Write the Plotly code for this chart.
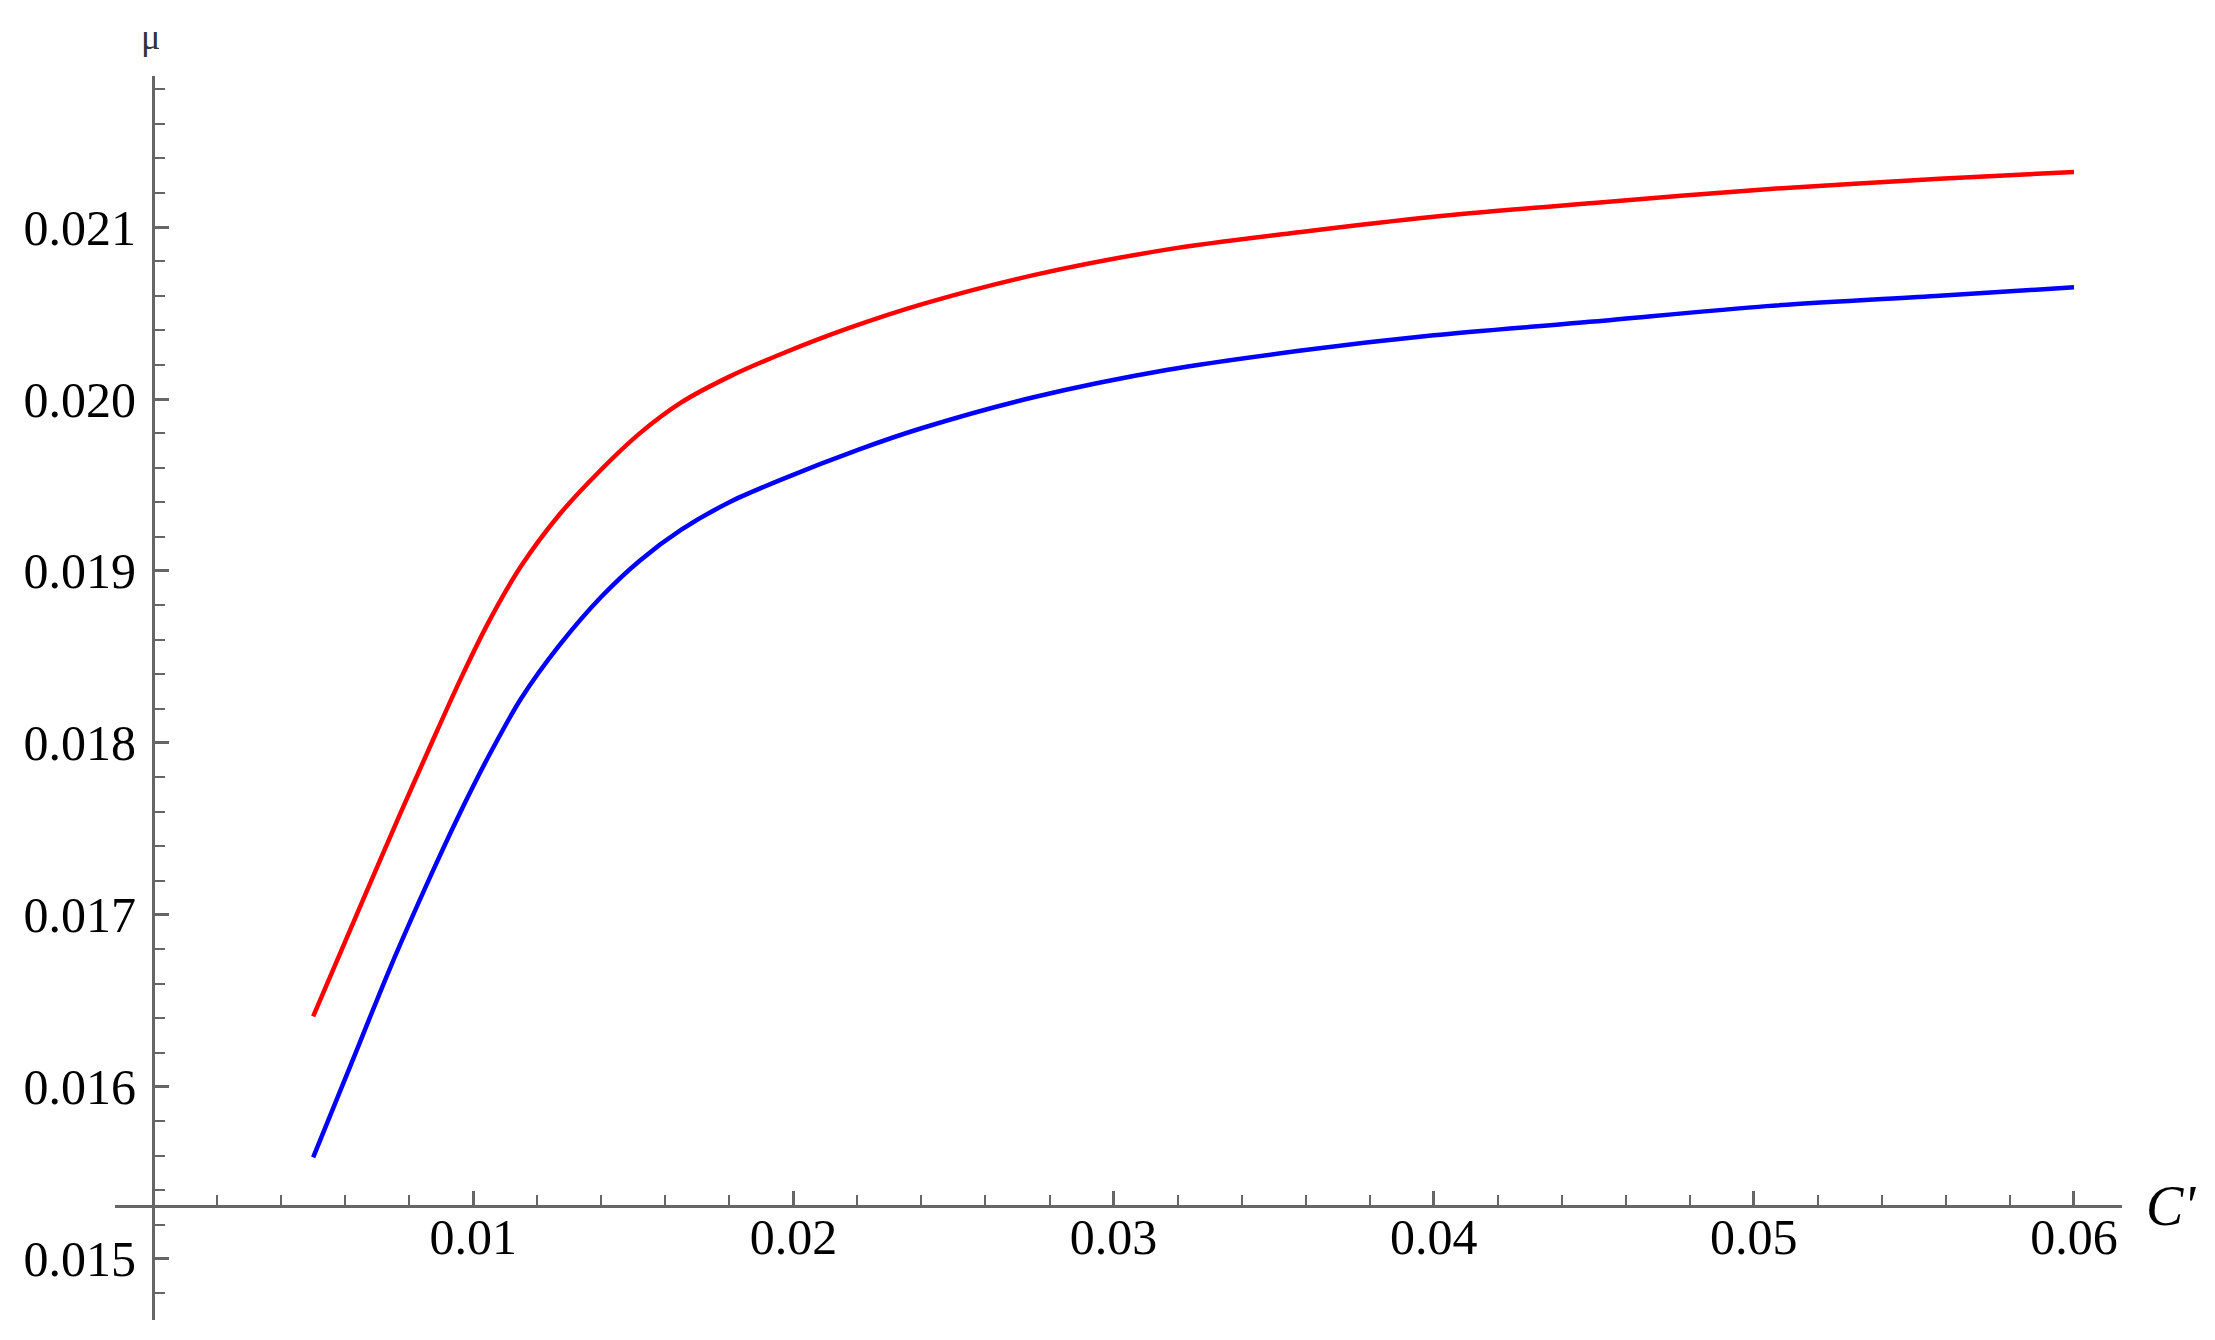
import plotly.graph_objects as go

# --- data (C' vs mu) ---
c_red = [0.0050, 0.0064, 0.0077, 0.0087, 0.0096, 0.0105, 0.0115, 0.0127, 0.0140, 0.0152, 0.0165,
         0.0180, 0.0196, 0.0217, 0.0240, 0.0275, 0.0317, 0.0358, 0.0400, 0.0450, 0.0504, 0.0558, 0.0600]
mu_red = [0.01641, 0.01702, 0.01758, 0.01800, 0.01837, 0.01871, 0.01903, 0.01933, 0.01959, 0.01980, 0.01998,
          0.02013, 0.02026, 0.02041, 0.02055, 0.02072, 0.02087, 0.02097, 0.02106, 0.02114, 0.02122, 0.02128, 0.02132]

c_blue = [0.0050, 0.0062, 0.0074, 0.0087, 0.0095, 0.0105, 0.0115, 0.0127, 0.0140, 0.0152, 0.0165,
          0.0180, 0.0196, 0.0221, 0.0240, 0.0275, 0.0317, 0.0358, 0.0400, 0.0450, 0.0504, 0.0558, 0.0600]
mu_blue = [0.01559, 0.01614, 0.01669, 0.01724, 0.01756, 0.01793, 0.01826, 0.01857, 0.01885, 0.01906, 0.01924,
           0.01940, 0.01953, 0.01971, 0.01983, 0.02001, 0.02017, 0.02028, 0.02037, 0.02045, 0.02054, 0.02060, 0.02065]

x_ticks = [0.01, 0.02, 0.03, 0.04, 0.05, 0.06]
y_ticks = [0.015, 0.016, 0.017, 0.018, 0.019, 0.020, 0.021]

# plot range and where the axes cross (Mathematica-style axes origin)
x_range = [-0.00119, 0.0615]
y_range = [0.014645, 0.021878]
x_origin = 0.0
y_origin = 0.015308

FONT = "Liberation Serif"
AXIS_COL = "#666666"

fig = go.Figure()

# --- curves ---
fig.add_trace(go.Scatter(x=c_red, y=mu_red, mode='lines',
                         line=dict(color='#ff0000', width=4.5, shape='spline', smoothing=0.8),
                         showlegend=False))
fig.add_trace(go.Scatter(x=c_blue, y=mu_blue, mode='lines',
                         line=dict(color='#0000ff', width=4.5, shape='spline', smoothing=0.8),
                         showlegend=False))

# axes cross inside the frame, so both are "free" and positioned by fraction
x_pos = (y_origin - y_range[0]) / (y_range[1] - y_range[0])
y_pos = (x_origin - x_range[0]) / (x_range[1] - x_range[0])

# page body has an 8px margin, so the figure is 16px smaller than the window
fig.update_layout(
    width=2199, height=1324,
    margin=dict(l=107, r=85, t=68, b=12),
    plot_bgcolor='white', paper_bgcolor='white',
    font=dict(family=FONT, size=50, color='black'),
    xaxis=dict(
        range=x_range, anchor='free', position=x_pos, side='bottom',
        showgrid=False, zeroline=False, showline=True, linecolor=AXIS_COL, linewidth=3,
        tickmode='array', tickvals=x_ticks, tickformat='.2f',
        ticks='inside', ticklen=14, tickwidth=2.5, tickcolor=AXIS_COL,
        minor=dict(tickmode='linear', tick0=0, dtick=0.002, ticks='inside', ticklen=10,
                   tickwidth=2, tickcolor=AXIS_COL),
        tickfont=dict(family=FONT, size=50, color='black'),
        ticklabelstandoff=-14,
        automargin=False,
    ),
    yaxis=dict(
        range=y_range, anchor='free', position=y_pos, side='left',
        showgrid=False, zeroline=False, showline=True, linecolor=AXIS_COL, linewidth=3,
        tickmode='array', tickvals=y_ticks, tickformat='.3f',
        ticks='inside', ticklen=14, tickwidth=2.5, tickcolor=AXIS_COL,
        minor=dict(tickmode='linear', tick0=0, dtick=0.0002, ticks='inside', ticklen=10,
                   tickwidth=2, tickcolor=AXIS_COL),
        tickfont=dict(family=FONT, size=50, color='black'),
        ticklabelstandoff=6,
        automargin=False,
    ),
)

# axis labels
fig.add_annotation(text="μ", xref='x', x=x_origin, yref='paper', y=1, xanchor='center', yanchor='bottom',
                   xshift=-3, yshift=18, borderpad=0, showarrow=False,
                   font=dict(family=FONT, size=36, color='#333333'))
fig.add_annotation(text="<i>C'</i>", xref='paper', x=1, yref='y', y=y_origin, xanchor='left', yanchor='middle',
                   xshift=22, showarrow=False, font=dict(family=FONT, size=56, color='black'))

fig.write_html("out.html")
